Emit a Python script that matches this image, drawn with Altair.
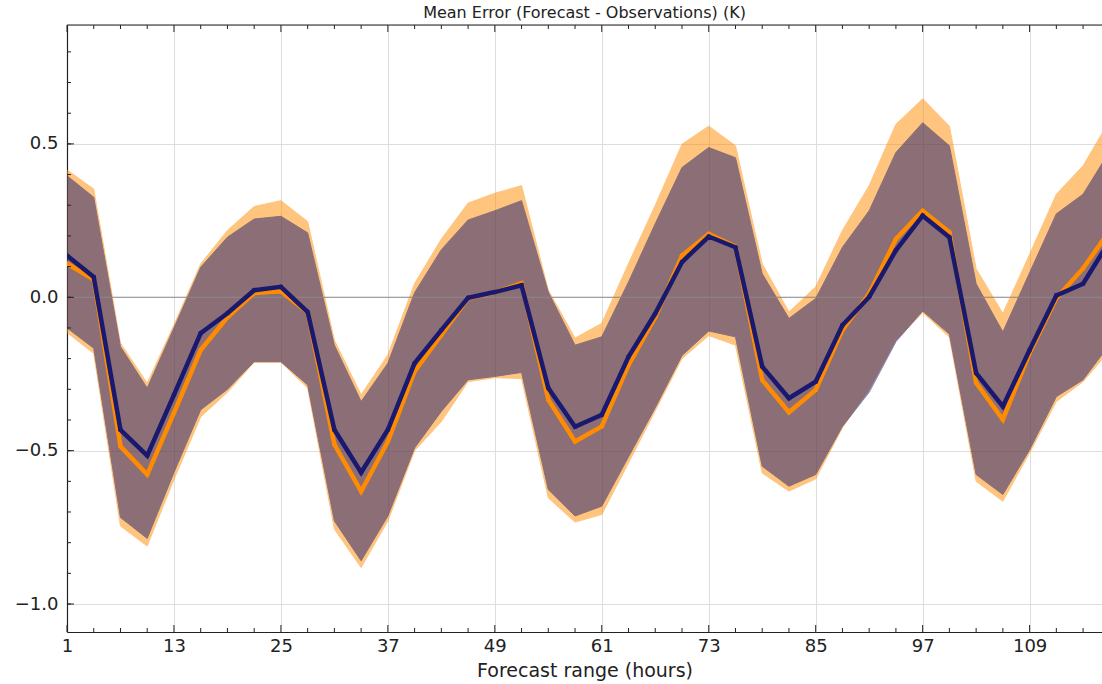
import altair as alt
import pandas as pd

# ---- data ----
hours = list(range(1, 119, 3))

navy_mean = [0.136, 0.066, -0.432, -0.516, -0.318, -0.117, -0.052, 0.023, 0.034, -0.048,
             -0.432, -0.571, -0.432, -0.215, -0.107, -0.002, 0.017, 0.039, -0.296, -0.422,
             -0.383, -0.194, -0.053, 0.115, 0.198, 0.163, -0.226, -0.329, -0.275, -0.091,
             0.001, 0.153, 0.266, 0.196, -0.247, -0.356, -0.172, 0.006, 0.044, 0.185]
orange_mean = [0.110, 0.058, -0.486, -0.578, -0.377, -0.172, -0.065, 0.014, 0.020, -0.050,
               -0.480, -0.633, -0.470, -0.242, -0.123, -0.003, 0.016, 0.046, -0.334, -0.470,
               -0.421, -0.221, -0.065, 0.136, 0.207, 0.165, -0.270, -0.375, -0.302, -0.107,
               0.012, 0.190, 0.282, 0.212, -0.279, -0.399, -0.182, -0.003, 0.094, 0.218]
navy_hi = [0.396, 0.326, -0.161, -0.296, -0.100, 0.098, 0.196, 0.255, 0.264, 0.210,
           -0.156, -0.340, -0.215, 0.015, 0.155, 0.252, 0.282, 0.315, 0.017, -0.156,
           -0.129, 0.050, 0.240, 0.423, 0.488, 0.455, 0.077, -0.069, -0.004, 0.163,
           0.282, 0.472, 0.569, 0.494, 0.044, -0.113, 0.080, 0.272, 0.336, 0.477]
orange_hi = [0.415, 0.353, -0.150, -0.280, -0.090, 0.109, 0.218, 0.296, 0.315, 0.247,
             -0.140, -0.318, -0.188, 0.045, 0.190, 0.307, 0.339, 0.364, 0.023, -0.133,
             -0.085, 0.110, 0.300, 0.499, 0.558, 0.494, 0.109, -0.048, 0.034, 0.218,
             0.364, 0.564, 0.647, 0.558, 0.093, -0.053, 0.140, 0.336, 0.429, 0.577]
navy_lo = [-0.100, -0.166, -0.718, -0.786, -0.571, -0.367, -0.300, -0.210, -0.210, -0.286,
           -0.729, -0.859, -0.713, -0.491, -0.372, -0.269, -0.258, -0.245, -0.627, -0.713,
           -0.681, -0.520, -0.360, -0.190, -0.110, -0.129, -0.551, -0.616, -0.578, -0.421,
           -0.310, -0.145, -0.045, -0.120, -0.578, -0.643, -0.497, -0.324, -0.269, -0.153]
orange_lo = [-0.115, -0.183, -0.746, -0.811, -0.594, -0.390, -0.310, -0.212, -0.212, -0.296,
             -0.756, -0.881, -0.729, -0.500, -0.405, -0.275, -0.262, -0.265, -0.654, -0.733,
             -0.708, -0.540, -0.370, -0.200, -0.125, -0.156, -0.573, -0.632, -0.592, -0.425,
             -0.300, -0.140, -0.050, -0.130, -0.600, -0.665, -0.507, -0.340, -0.275, -0.173]

x_major = [1, 13, 25, 37, 49, 61, 73, 85, 97, 109]
x_minor = [h for h in range(4, 118, 3) if h not in x_major]
y_major = [-1.0, -0.5, 0.0, 0.5]
y_minor = [-1.0, -0.9, -0.8, -0.7, -0.6, -0.5, -0.4, -0.3, -0.2, -0.1,
           0.0, 0.1, 0.2, 0.3, 0.4, 0.5, 0.6, 0.7, 0.8]

title_text = "Mean Error (Forecast - Observations) (K)"
x_title = "Forecast range (hours)"

ORANGE = "#FF8C00"
NAVY = "#191970"
FONT = "DejaVu Sans"
W, H = 1035, 607

df = pd.DataFrame({
    "hour": hours,
    "navy_mean": navy_mean, "orange_mean": orange_mean,
    "navy_hi": navy_hi, "navy_lo": navy_lo,
    "orange_hi": orange_hi, "orange_lo": orange_lo,
})

xscale = alt.Scale(domain=[1, 1 + W / 8.913], nice=False, zero=False)
yscale = alt.Scale(domain=[-1.0912, 0.8876], nice=False, zero=False)

xaxis = alt.Axis(values=x_major, title=x_title, grid=True, gridColor="#dddddd",
                 tickSize=0, labelFontSize=18, labelFont=FONT, labelColor="#222222",
                 labelPadding=5, labelFlush=False, labelOverlap=False,
                 titleFont=FONT, titleFontSize=19, titleFontWeight="normal",
                 titleColor="#222222", titlePadding=6, domainColor="#222222",
                 domainWidth=1.2, format="d")
yaxis = alt.Axis(values=y_major, title=None, grid=True, gridColor="#dddddd",
                 tickSize=0, labelFontSize=18, labelFont=FONT, labelColor="#222222",
                 labelPadding=9, labelFlush=False, labelOverlap=False,
                 domainColor="#222222", domainWidth=1.2, format=".1f")


def X(field):
    return alt.X(field, scale=xscale, axis=xaxis)


def Y(field):
    return alt.Y(field, scale=yscale, axis=yaxis)


base = alt.Chart(df)

orange_band = base.mark_area(color=ORANGE, opacity=0.5, stroke=ORANGE, strokeWidth=1,
                             clip=True).encode(x=X("hour:Q"), y=Y("orange_lo:Q"),
                                               y2="orange_hi:Q")
navy_band = base.mark_area(color=NAVY, opacity=0.5, stroke=NAVY, strokeWidth=1,
                           clip=True).encode(x=X("hour:Q"), y=Y("navy_lo:Q"),
                                             y2="navy_hi:Q")

zero_df = pd.DataFrame({"v": [0.0]})
zero_line = alt.Chart(zero_df).mark_rule(color="#8c8c8c", strokeWidth=1.2).encode(
    y=Y("v:Q"), x=alt.value(0), x2=alt.value(W))

orange_line = base.mark_line(color=ORANGE, strokeWidth=4.5, clip=True).encode(
    x=X("hour:Q"), y=Y("orange_mean:Q"))
orange_pts = base.mark_circle(color=ORANGE, size=22, opacity=1, clip=True).encode(
    x=X("hour:Q"), y=Y("orange_mean:Q"))
navy_line = base.mark_line(color=NAVY, strokeWidth=4.5, clip=True).encode(
    x=X("hour:Q"), y=Y("navy_mean:Q"))
navy_pts = base.mark_circle(color=NAVY, size=22, opacity=1, clip=True).encode(
    x=X("hour:Q"), y=Y("navy_mean:Q"))

# inward tick marks (matplotlib classic style)
xmaj_df = pd.DataFrame({"v": x_major})
xmin_df = pd.DataFrame({"v": x_minor})
ymaj_df = pd.DataFrame({"v": y_major})
ymin_df = pd.DataFrame({"v": y_minor})
TC = "#222222"

ticks = [
    alt.Chart(xmaj_df).mark_rule(color=TC, strokeWidth=1).encode(
        x=X("v:Q"), y=alt.value(H), y2=alt.value(H - 7)),
    alt.Chart(xmin_df).mark_rule(color=TC, strokeWidth=1).encode(
        x=X("v:Q"), y=alt.value(H), y2=alt.value(H - 4)),
    alt.Chart(xmaj_df).mark_rule(color=TC, strokeWidth=1).encode(
        x=X("v:Q"), y=alt.value(0), y2=alt.value(7)),
    alt.Chart(xmin_df).mark_rule(color=TC, strokeWidth=1).encode(
        x=X("v:Q"), y=alt.value(0), y2=alt.value(4)),
    alt.Chart(ymaj_df).mark_rule(color=TC, strokeWidth=1).encode(
        y=Y("v:Q"), x=alt.value(0), x2=alt.value(7)),
    alt.Chart(ymin_df).mark_rule(color=TC, strokeWidth=1).encode(
        y=Y("v:Q"), x=alt.value(0), x2=alt.value(4)),
]
top_border = alt.Chart(zero_df).mark_rule(color=TC, strokeWidth=1.2).encode(
    x=alt.value(0), x2=alt.value(W), y=alt.value(0))

chart = alt.layer(
    orange_band, navy_band, zero_line, orange_line, orange_pts, navy_line, navy_pts,
    *ticks, top_border
).properties(
    width=W, height=H,
    title=alt.TitleParams(title_text, fontSize=16, font=FONT, fontWeight="normal",
                          anchor="middle", color="#222222", offset=3),
    autosize=alt.AutoSizeParams(type="none"),
    padding={"left": 67, "top": 25, "right": 0, "bottom": 52},
).configure_view(stroke="transparent").configure(background="white")

chart.save("out.html", embed_options={"renderer": "svg", "actions": False})
